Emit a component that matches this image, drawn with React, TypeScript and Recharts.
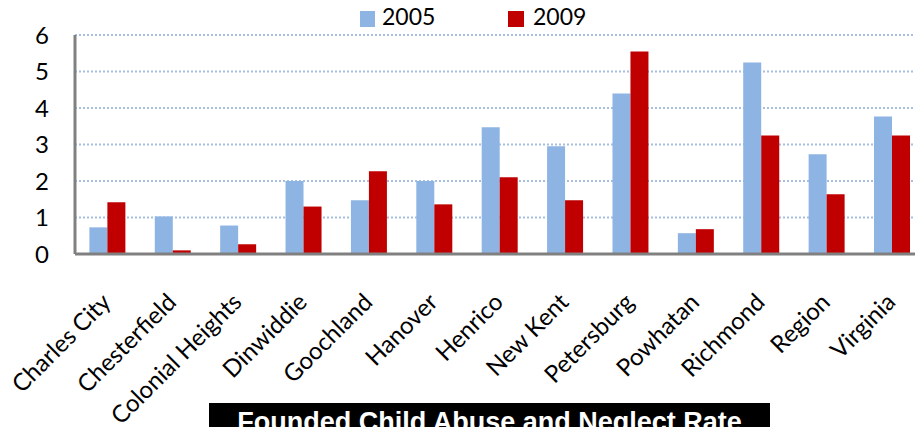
import React from 'react';
import { BarChart, Bar, XAxis, YAxis, CartesianGrid } from 'recharts';

const categories = [
  'Charles City', 'Chesterfield', 'Colonial Heights', 'Dinwiddie', 'Goochland', 'Hanover',
  'Henrico', 'New Kent', 'Petersburg', 'Powhatan', 'Richmond', 'Region', 'Virginia',
];
const rate2005 = [0.73, 1.03, 0.78, 2.0, 1.47, 2.0, 3.47, 2.95, 4.4, 0.57, 5.25, 2.73, 3.77];
const rate2009 = [1.42, 0.1, 0.27, 1.3, 2.27, 1.36, 2.1, 1.47, 5.55, 0.68, 3.25, 1.64, 3.25];
const yTicks = [0, 1, 2, 3, 4, 5, 6];

const data = categories.map((name, i) => ({ name, y2005: rate2005[i], y2009: rate2009[i] }));

const FONT = 'Lato, "Open Sans", sans-serif';

const AngledTick = (props: any) => {
  const { x, y, payload } = props;
  return (
    <g transform={`translate(${x - 1},${y + 36})`}>
      <text transform="rotate(-45)" textAnchor="end" fontSize={24} fontFamily={FONT} fill="#000" dy={8}>
        {payload.value}
      </text>
    </g>
  );
};

const App = () => {
  return (
    <div style={{ position: 'absolute', left: 0, top: 0, width: 915, height: 427, overflow: 'hidden', background: '#fff' }}>
      <BarChart
        width={925}
        height={427}
        data={data}
        margin={{ top: 35, right: 0, left: 0, bottom: 0 }}
        barCategoryGap="22%"
        barGap={0}
      >
        <CartesianGrid vertical={false} stroke="#A7BFDE" strokeDasharray="2 2" strokeWidth={2} />
        <XAxis
          dataKey="name"
          interval={0}
          height={173}
          tick={<AngledTick />}
          tickLine={false}
          axisLine={{ stroke: '#808080', strokeWidth: 3 }}
        />
        <YAxis
          width={75}
          domain={[0, 6]}
          ticks={yTicks}
          tickLine={false}
          axisLine={{ stroke: '#808080', strokeWidth: 3 }}
          tick={{ fontSize: 24, fontFamily: FONT, fill: '#000', dx: -18 }}
        />
        <Bar dataKey="y2005" name="2005" fill="#8EB4E3" isAnimationActive={false} />
        <Bar dataKey="y2009" name="2009" fill="#C00000" isAnimationActive={false} />
      </BarChart>
      {/* legend */}
      <div style={{ position: 'absolute', left: 0, top: 0, width: 915, height: 32, fontFamily: FONT, fontSize: 23 }}>
        <div style={{ position: 'absolute', left: 360, top: 11, width: 15, height: 16, background: '#8EB4E3' }} />
        <span style={{ position: 'absolute', left: 382, top: 2 }}>2005</span>
        <div style={{ position: 'absolute', left: 508, top: 11, width: 16, height: 16, background: '#C00000' }} />
        <span style={{ position: 'absolute', left: 533, top: 2 }}>2009</span>
      </div>
      <div
        style={{
          position: 'absolute', left: 209, top: 403, width: 561, height: 40, background: '#000',
          color: '#fff', fontFamily: '"Liberation Sans", Arial, sans-serif', fontWeight: 'bold',
          fontSize: 27, textAlign: 'center', paddingTop: 4, boxSizing: 'border-box', whiteSpace: 'nowrap',
        }}
      >
        Founded Child Abuse and Neglect Rate
      </div>
    </div>
  );
};

export default App;
